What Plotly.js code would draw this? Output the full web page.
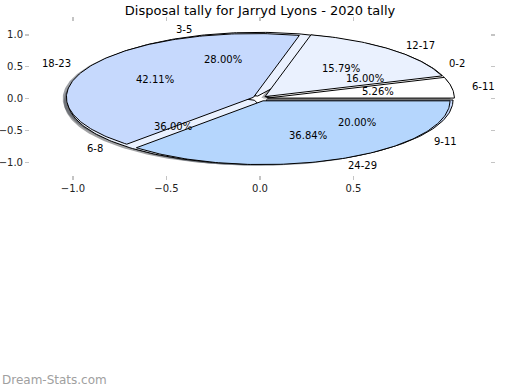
<!DOCTYPE html>
<html>
<head>
<meta charset="utf-8">
<script src="https://cdn.plot.ly/plotly-3.0.1.min.js"></script>
<style>html,body{margin:0;padding:0;background:#fff;}#chart{width:520px;height:390px;}</style>
</head>
<body>
<div id="chart"></div>
<script>
// Outer (top) pie: disposal ranges (counts)
const pie1Labels = ['6-11', '12-17', '18-23', '24-29'];
const pie1Values = [1, 3, 8, 7];
const pie1Colors = ['#ffffff', '#eaf1fe', '#c6d9fd', '#b5d6fd'];
// Under pie: second tally ranges (counts)
const pie2Labels = ['0-2', '3-5', '6-8', '9-11'];
const pie2Values = [4, 7, 9, 5];
const pie2Colors = ['#ffffff', '#eaf1fe', '#eaf1fe', '#c6d9fd'];
const xTicks = [-1, -0.5, 0, 0.5];
const yTicks = [-1, -0.5, 0, 0.5, 1];

const explode = 0.04;
const labelDist = 1.1, pctDist = 0.6;
const FONT = 'DejaVu Sans';

function hexToRgb(h) {
  const n = parseInt(h.slice(1), 16);
  return [(n >> 16) & 255, (n >> 8) & 255, n & 255];
}

function buildPie(labels, values, colors) {
  const total = values.reduce((a, b) => a + b, 0);
  let start = 0;
  const wedges = [];
  values.forEach((v, i) => {
    const a1 = start, a2 = start + 360 * v / total;
    start = a2;
    const mid = (a1 + a2) / 2 * Math.PI / 180;
    const cx = explode * Math.cos(mid), cy = explode * Math.sin(mid);
    const xs = [cx], ys = [cy];
    const n = Math.max(2, Math.ceil(a2 - a1));
    for (let k = 0; k <= n; k++) {
      const t = (a1 + (a2 - a1) * k / n) * Math.PI / 180;
      xs.push(cx + Math.cos(t));
      ys.push(cy + Math.sin(t));
    }
    xs.push(cx); ys.push(cy);
    wedges.push({label: labels[i], pct: (100 * v / total).toFixed(2) + '%', color: colors[i],
      xs, ys, cx, cy, mid});
  });
  return wedges;
}

const w2 = buildPie(pie2Labels, pie2Values, pie2Colors);
const w1 = buildPie(pie1Labels, pie1Values, pie1Colors);

const traces = [];
// shadows (below all wedges)
[w2, w1].forEach(ws => ws.forEach(w => {
  const c = hexToRgb(w.color).map(x => Math.round(x * 0.3));
  const col = `rgba(${c[0]},${c[1]},${c[2]},0.5)`;
  traces.push({type: 'scatter', mode: 'lines', x: w.xs.map(x => x - 0.02), y: w.ys.map(y => y - 0.02),
    fill: 'toself', fillcolor: col, line: {width: 0, color: col}, hoverinfo: 'skip', showlegend: false});
}));
// wedges: second pie underneath, first pie on top
[w2, w1].forEach(ws => ws.forEach(w => {
  traces.push({type: 'scatter', mode: 'lines', x: w.xs, y: w.ys, fill: 'toself', fillcolor: w.color,
    line: {width: 1, color: '#000000'}, hoverinfo: 'skip', showlegend: false});
}));

const annotations = [];
[w2, w1].forEach(ws => ws.forEach(w => {
  const lx = w.cx + labelDist * Math.cos(w.mid), ly = w.cy + labelDist * Math.sin(w.mid);
  annotations.push({x: lx, y: ly, xref: 'x', yref: 'y', text: w.label, showarrow: false,
    xanchor: lx > 0 ? 'left' : 'right', yanchor: 'middle',
    font: {family: FONT, size: 10, color: '#000'}});
  const px = w.cx + pctDist * Math.cos(w.mid), py = w.cy + pctDist * Math.sin(w.mid);
  annotations.push({x: px, y: py, xref: 'x', yref: 'y', text: w.pct, showarrow: false,
    xanchor: 'center', yanchor: 'middle', font: {family: FONT, size: 10, color: '#000'}});
}));
annotations.push({xref: 'paper', yref: 'paper', x: -0.0652, y: -1.34, xanchor: 'left', yanchor: 'middle',
  text: 'Dream-Stats.com', showarrow: false, font: {family: FONT, size: 12, color: '#a0a0a0'}});

const axisCommon = {showgrid: false, zeroline: false, showline: false, ticks: 'outside', mirror: 'ticks',
  ticklen: 4, tickwidth: 1.5, tickcolor: '#c4c4c4', tickformat: '.1f',
  tickfont: {family: FONT, size: 10, color: '#222'}, fixedrange: true};

const layout = {
  width: 520, height: 390,
  margin: {l: 30, r: 30, t: 22, b: 215, pad: 0},
  paper_bgcolor: '#ffffff', plot_bgcolor: '#ffffff',
  title: {text: 'Disposal tally for Jarryd Lyons - 2020 tally', font: {family: FONT, size: 13, color: '#000'},
    x: 0.5, xanchor: 'center', y: 1 - 10 / 390, yanchor: 'middle', yref: 'container'},
  xaxis: Object.assign({}, axisCommon, {range: [-1.23, 1.23], tickmode: 'array', tickvals: xTicks}),
  yaxis: Object.assign({}, axisCommon, {range: [-1.2, 1.2], tickmode: 'array', tickvals: yTicks}),
  annotations: annotations,
  showlegend: false
};

Plotly.newPlot('chart', traces, layout, {displayModeBar: false, staticPlot: true});
</script>
</body>
</html>
